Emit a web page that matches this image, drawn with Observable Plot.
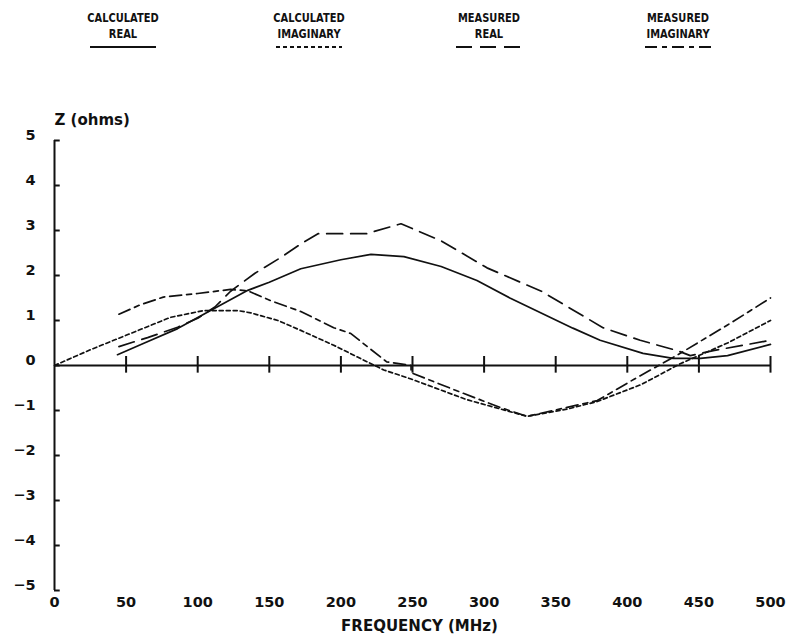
<!DOCTYPE html>
<html><head><meta charset="utf-8">
<script src="https://cdn.jsdelivr.net/npm/d3@7"></script>
<script src="https://cdn.jsdelivr.net/npm/@observablehq/plot@0.6"></script>
<style>
body{margin:0;background:#fff;font-family:"DejaVu Sans",sans-serif;color:#111}
#wrap{position:relative;width:796px;height:641px;overflow:hidden;background:#fff}
#legend{position:relative;height:75px;width:796px}
.item{position:absolute;top:10px;width:160px;margin-left:-80px;text-align:center;font-weight:bold;font-size:13px;line-height:15.5px}
.item .t{display:block;transform:scaleX(0.76);white-space:nowrap}
.item svg{position:absolute;left:47px;top:35px}
</style>
</head><body>
<div id="wrap"><div id="legend"></div><div id="chart"></div></div>
<script>
// ---- data ----
const legendNames = [["CALCULATED","REAL"],["CALCULATED","IMAGINARY"],["MEASURED","REAL"],["MEASURED","IMAGINARY"]];
const legendCenters = [123, 309, 489, 678];
const xTicks = [0,50,100,150,200,250,300,350,400,450,500];
const yTicks = [-5,-4,-3,-2,-1,0,1,2,3,4,5];

const calcRealF = [44,62,86,109,135,150,172,200,221,244,270,295,318,362,381,411,432,451,470,500];
const calcRealZ = [0.24,0.49,0.82,1.22,1.67,1.85,2.15,2.35,2.47,2.42,2.2,1.89,1.5,0.83,0.56,0.27,0.16,0.16,0.22,0.47];

const calcImagF = [0,25,53,81,104,128,137,156,172,195,214,230,249,288,330,358,379,410,437,470,500];
const calcImagZ = [0,0.35,0.71,1.07,1.22,1.22,1.17,1.0,0.78,0.45,0.15,-0.1,-0.3,-0.76,-1.13,-0.97,-0.8,-0.42,0.04,0.5,1.0];

const measRealF = [45,65,86,100,112,123,140,158,172,184,218,242,270,302,340,383,409,435,444,460,500];
const measRealZ = [0.42,0.62,0.85,1.05,1.3,1.65,2.05,2.4,2.7,2.93,2.93,3.15,2.77,2.17,1.65,0.84,0.56,0.33,0.22,0.33,0.56];

const measImagF = [45,60,76,100,123,135,151,172,195,207,220,232,249,249,280,311,330,358,379,405,437,470,500];
const measImagZ = [1.14,1.35,1.52,1.6,1.69,1.66,1.44,1.2,0.84,0.71,0.38,0.08,0.0,-0.16,-0.55,-0.93,-1.13,-0.93,-0.78,-0.3,0.27,0.9,1.5];

const dashes = [null, "4,3", "16,8", "12,5,5,5"];

// ---- legend ----
const legend = document.getElementById("legend");
legendNames.forEach((n, i) => {
  const d = document.createElement("div");
  d.className = "item";
  d.style.left = legendCenters[i] + "px";
  d.innerHTML = `<span class="t">${n[0]}</span><span class="t">${n[1]}</span>` +
    `<svg width="66" height="4"><line x1="0" x2="66" y1="2" y2="2" stroke="#111" stroke-width="1.8" ${dashes[i] ? `stroke-dasharray="${dashes[i]}"` : ""}/></svg>`;
  legend.appendChild(d);
});

// ---- chart ----
const rows = (f, z) => f.map((x, i) => ({f: x, z: z[i]}));
const series = [rows(calcRealF, calcRealZ), rows(calcImagF, calcImagZ), rows(measRealF, measRealZ), rows(measImagF, measImagZ)];

const chart = Plot.plot({
  width: 796, height: 566,
  marginTop: 65, marginBottom: 51, marginLeft: 54, marginRight: 26,
  style: {fontFamily: "DejaVu Sans", fontSize: "14px", fontWeight: "bold", color: "#111", background: "white", overflow: "visible"},
  x: {domain: [0, 500]},
  y: {domain: [-5, 5]},
  marks: [
    Plot.axisX(xTicks, {tickSize: 0, tickPadding: 6, label: null, tickFormat: d => String(d), fontSize: 14.5}),
    Plot.axisY(yTicks, {tickSize: 0, tickPadding: 19, label: null, dy: -5, fontSize: 14.5}),
    Plot.ruleX([0], {y1: -5, y2: 5, strokeWidth: 2}),
    Plot.ruleY(yTicks, {x1: 0, x2: 4, strokeWidth: 2}),
    Plot.ruleY([0], {x1: 0, x2: 500, strokeWidth: 2}),
    Plot.ruleX(xTicks.filter(d => d > 0), {y1: -0.17, y2: 0.2, strokeWidth: 2}),
    ...series.map((s, i) => Plot.line(s, {x: "f", y: "z", stroke: "#111", strokeWidth: 1.7, strokeDasharray: dashes[i] || undefined})),
    Plot.text(["Z (ohms)"], {text: d => d, frameAnchor: "top-left", dy: -26, textAnchor: "start", fontSize: 15}),
    Plot.text(["FREQUENCY (MHz)"], {text: d => d, frameAnchor: "bottom", dy: 40, dx: 7, fontSize: 15})
  ]
});
document.getElementById("chart").appendChild(chart);
</script>
</body></html>
